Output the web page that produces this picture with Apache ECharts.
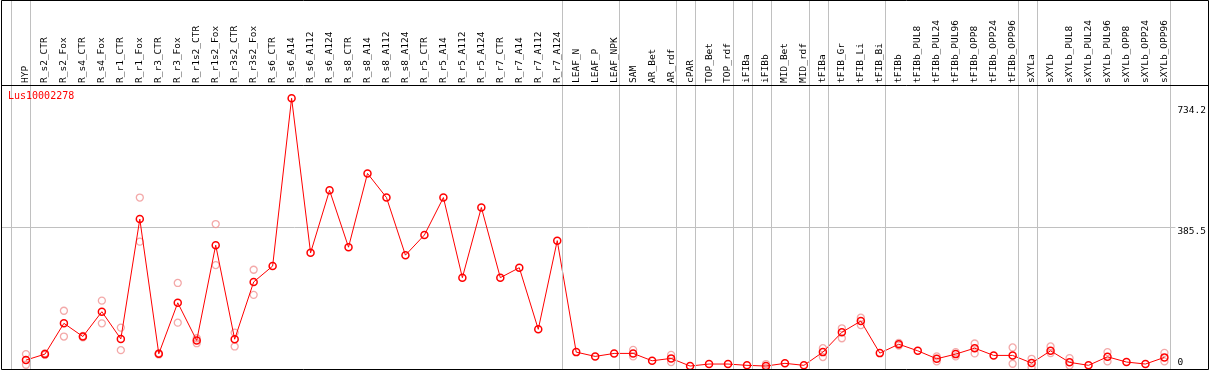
<!DOCTYPE html>
<html>
<head>
<meta charset="utf-8">
<script src="https://cdn.jsdelivr.net/npm/echarts@6/dist/echarts.min.js"></script>
<style>
html,body{margin:0;padding:0;background:#fff;}
#chart{width:1209px;height:370px;}
</style>
</head>
<body>
<div id="chart"></div>
<script>
const geneName = 'Lus10002278';
const categories = ['HYP','R_s2_CTR','R_s2_Fox','R_s4_CTR','R_s4_Fox','R_r1_CTR','R_r1_Fox','R_r3_CTR','R_r3_Fox','R_r1s2_CTR','R_r1s2_Fox','R_r3s2_CTR','R_r3s2_Fox','R_s6_CTR','R_s6_A14','R_s6_A112','R_s6_A124','R_s8_CTR','R_s8_A14','R_s8_A112','R_s8_A124','R_r5_CTR','R_r5_A14','R_r5_A112','R_r5_A124','R_r7_CTR','R_r7_A14','R_r7_A112','R_r7_A124','LEAF_N','LEAF_P','LEAF_NPK','SAM','AR_Bet','AR_rdf','cPAR','TOP_Bet','TOP_rdf','iFIBa','iFIBb','MID_Bet','MID_rdf','tFIBa','tFIB_Gr','tFIB_Li','tFIB_Bi','tFIBb','tFIBb_PUL8','tFIBb_PUL24','tFIBb_PUL96','tFIBb_OPP8','tFIBb_OPP24','tFIBb_OPP96','sXYLa','sXYLb','sXYLb_PUL8','sXYLb_PUL24','sXYLb_PUL96','sXYLb_OPP8','sXYLb_OPP24','sXYLb_OPP96'];
const means = [26.8,42.9,126.1,90.4,157.5,84.0,407.7,43.7,181.6,79.7,337.2,83.2,237.9,280.8,734.2,316.5,485.5,331.8,531.1,465.9,310.3,364.8,465.9,249.5,439.1,249.5,276.3,110.0,349.5,48.3,36.7,44.8,44.8,24.9,31.4,10.7,16.1,16.1,12.6,10.7,18.0,12.6,48.3,101.9,132.2,45.6,69.7,51.8,30.3,42.9,59.0,39.4,39.4,18.8,51.8,20.7,12.6,35.7,21.5,16.1,34.1];
const replicates = [[42.9,14.2],[41,45],[160.1,90.4],[88,92],[187.4,126.1],[114.5,53.6],[465.9,346.8],[42,45],[235.2,127.9],[85.8,72.4],[394.3,283.5],[101.1,63.6],[270.9,203.0],
 [],[],[],[],[],[],[],[],[],[],[],[],[],[],[],[],[],[],[],
 [54.5,36.7],[],[41.0,21.5],[],[],[],[],[16.1,5.4],[],[],[59.0,34.9],[112.7,85.8],[141.4,121.5],[],[66,73],[],[36.7,23.3],[48.3,36.7],[71.6,44.8],[],[60.9,16.9],[30.3,6.7],[63.6,45.6],[32.2,12.0],[],[48.3,23.3],[],[],[46.4,23.3]];
const yLabelValues = [0, 385.5, 734.2];
const refLineValue = 385.5;
// last category index of each group (separator drawn just after it)
const groupEnds = [-1,0,28,31,34,35,37,38,39,41,42,45,52,53,60];

const SEP_OFF = 0.237;
const xMin = -25/19, xMax = 1151/19;
const FONT = 'DejaVu Sans Mono';

const lineData = means.map((v,i)=>[i,v]);
const repData = [];
replicates.forEach((arr,i)=>arr.forEach(v=>repData.push([i,v])));
const sepLines = groupEnds.map(b=>({xAxis: b + SEP_OFF}));

const chart = echarts.init(document.getElementById('chart'), null, {renderer:'canvas'});
chart.setOption({
  animation:false,
  backgroundColor:'#ffffff',
  title:{text:geneName,left:8,top:91,padding:0,textStyle:{color:'#ff0000',fontSize:10,fontWeight:'normal',fontFamily:FONT}},
  grid:[
    {left:1,right:32,top:85,bottom:-2,containLabel:false},
    {left:1,right:32,top:0,bottom:1,containLabel:false}
  ],
  xAxis:[
    {type:'value',gridIndex:0,position:'top',min:xMin,max:xMax,
     axisLine:{show:false},axisTick:{show:false},splitLine:{show:false},
     axisLabel:{show:true,customValues:categories.map((c,i)=>i),rotate:90,margin:2,
       fontSize:9.5,fontFamily:FONT,color:'#000',formatter:(v)=>categories[Math.round(v)]||''}},
    {type:'value',gridIndex:1,min:xMin,max:xMax,show:false}
  ],
  yAxis:[
    {type:'value',gridIndex:0,position:'right',min:0,max:770,
     axisLine:{show:false},axisTick:{show:false},splitLine:{show:false},
     axisLabel:{show:true,customValues:yLabelValues,margin:2,fontSize:9.5,fontFamily:FONT,color:'#000',
       align:'left',verticalAlign:'middle',
       formatter:(v)=>{ if (Math.abs(v)<1e-6) return '{lo|0}'; if (Math.abs(v-734.2)<1e-6) return '{hi|734.2}'; return '{md|'+v+'}'; },
       rich:{
         lo:{fontSize:9.5,fontFamily:FONT,color:'#000',padding:[0,0,15,0]},
         md:{fontSize:9.5,fontFamily:FONT,color:'#000',padding:[8,0,0,0]},
         hi:{fontSize:9.5,fontFamily:FONT,color:'#000',padding:[24,0,0,0]}
       }}},
    {type:'value',gridIndex:1,min:0,max:1,show:false}
  ],
  series:[
    {type:'line',xAxisIndex:1,yAxisIndex:1,data:[],z:1,silent:true,
     markLine:{silent:true,symbol:['none','none'],label:{show:false},animation:false,
       lineStyle:{type:'solid',color:'#c0c0c0',width:1},emphasis:{disabled:true},data:sepLines}},
    {type:'scatter',xAxisIndex:0,yAxisIndex:0,data:repData,symbol:'circle',symbolSize:7,z:3,silent:true,clip:false,
     itemStyle:{color:'rgba(0,0,0,0)',borderColor:'#f09494',borderWidth:1.3}},
    {type:'line',xAxisIndex:0,yAxisIndex:0,data:lineData,symbol:'circle',symbolSize:7,showAllSymbol:true,z:4,silent:true,clip:false,
     lineStyle:{color:'#ff0000',width:1},
     itemStyle:{color:'rgba(0,0,0,0)',borderColor:'#ff0000',borderWidth:1.5},
     markLine:{silent:true,symbol:['none','none'],label:{show:false},animation:false,z:1,
       lineStyle:{type:'solid',color:'#c0c0c0',width:1},emphasis:{disabled:true},data:[{yAxis:refLineValue}]}}
  ],
  graphic:[
    {type:'rect',z:100,silent:true,shape:{x:1.5,y:0.5,width:1207,height:369},style:{fill:null,stroke:'#000',lineWidth:1}},
    {type:'line',z:100,silent:true,shape:{x1:1.5,y1:85.5,x2:1208.5,y2:85.5},style:{stroke:'#000',lineWidth:1}}
  ]
});
</script>
</body>
</html>
